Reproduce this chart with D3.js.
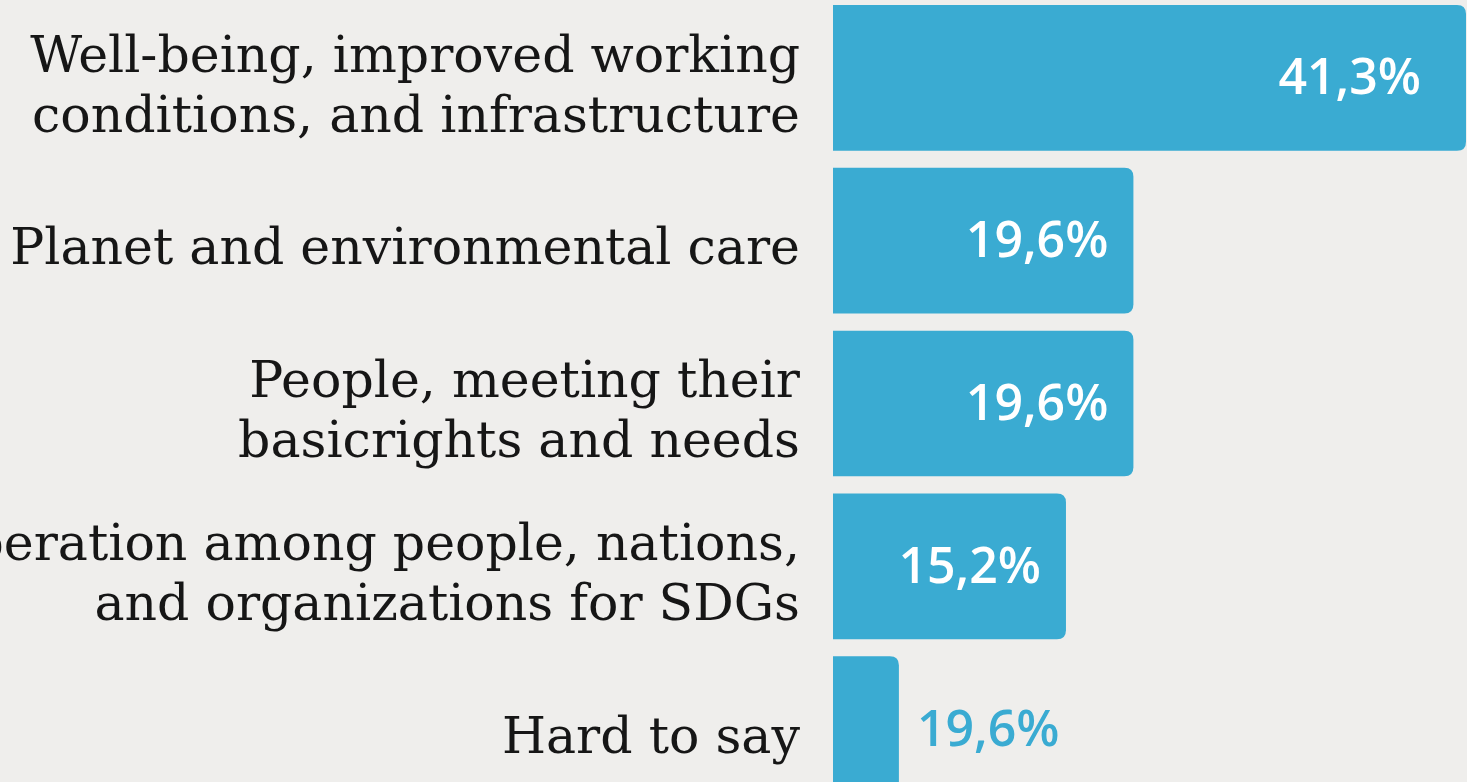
<!DOCTYPE html>
<html>
<head>
<meta charset="utf-8">
<script src="https://cdn.jsdelivr.net/npm/d3@7"></script>
<style>
  html, body { margin: 0; padding: 0; background: #efeeec; overflow: hidden; }
</style>
</head>
<body>
<script>
const categories = [
    ["Well-being, improved working", "conditions, and infrastructure"],
    ["Planet and environmental care"],
    ["People, meeting their", "basicrights and needs"],
    ["Cooperation among people, nations,", "and organizations for SDGs "],
    ["Hard to say"]
];
const values = [41.3, 19.6, 19.6, 15.2, 4.3];
const valueLabels = ["41,3%", "19,6%", "19,6%", "15,2%", "19,6%"];

const W = 1467, H = 782;
const barColor = "#3aabd2";

const svg = d3.select("body")
    .append("svg")
    .attr("width", W)
    .attr("height", H);

svg.append("rect")
    .attr("width", W).attr("height", H)
    .attr("fill", "#efeeec");

const x = d3.scaleLinear()
    .domain([0, 41.3])
    .range([833, 1466]);

const y = d3.scaleBand()
    .domain(d3.range(categories.length))
    .range([5, 802])
    .paddingInner(0.105);

function barPath(x0, y0, w, h, r) {
    r = Math.min(r, w / 2);
    return `M${x0},${y0} H${x0 + w - r} Q${x0 + w},${y0} ${x0 + w},${y0 + r}
            V${y0 + h - r} Q${x0 + w},${y0 + h} ${x0 + w - r},${y0 + h} H${x0} Z`;
}

svg.selectAll("path.bar")
    .data(values)
    .enter().append("path")
    .attr("class", "bar")
    .attr("fill", barColor)
    .attr("d", (d, i) => barPath(x(0), y(i), x(d) - x(0), y.bandwidth(), 9));

// category labels, right aligned against the bars
const labelFont = 52;
const lineGap = 60;
const labels = svg.selectAll("text.cat")
    .data(categories)
    .enter().append("text")
    .attr("class", "cat")
    .attr("text-anchor", "end")
    .attr("font-family", "'DejaVu Serif', serif")
    .attr("font-size", labelFont)
    .attr("fill", "#161616");

labels.each(function (lines, i) {
    const cy = y(i) + y.bandwidth() / 2;
    const first = cy - (lines.length - 1) * lineGap / 2;
    d3.select(this).selectAll("tspan")
        .data(lines)
        .enter().append("tspan")
        .attr("x", 800)
        .attr("y", (d, j) => first + j * lineGap + 6)
        .attr("dy", "0.35em")
        .text(d => d);
});

// squeeze the label font so the widest single line fits like the original
const ref = labels.filter((d, i) => i === 1).node();
const fit = 790 / ref.getComputedTextLength();
if (fit < 1) labels.attr("font-size", labelFont * fit);

// value labels
svg.selectAll("text.val")
    .data(values)
    .enter().append("text")
    .attr("class", "val")
    .attr("font-family", "'Open Sans', sans-serif")
    .attr("font-weight", 600)
    .attr("font-size", 50)
    .attr("dy", "0.35em")
    .attr("y", (d, i) => y(i) + y.bandwidth() / 2 - 1)
    .attr("x", (d, i) => d > 10 ? x(d) - (i === 0 ? 45 : 25) : x(d) + 18)
    .attr("text-anchor", d => d > 10 ? "end" : "start")
    .attr("fill", d => d > 10 ? "#ffffff" : barColor)
    .text((d, i) => valueLabels[i]);
</script>
</body>
</html>
